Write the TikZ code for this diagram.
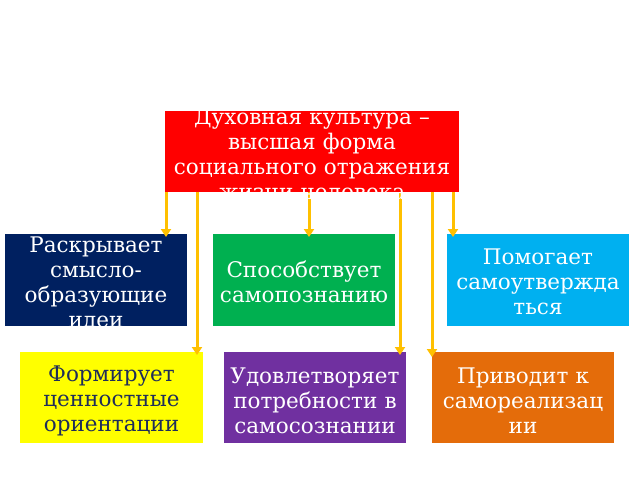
\documentclass[tikz,border=0pt]{standalone}
\usepackage{fontspec}
\setmainfont{DejaVu Serif}
\usetikzlibrary{arrows.meta}
\definecolor{cred}{HTML}{FF0000}
\definecolor{cdblue}{HTML}{002060}
\definecolor{cgreen}{HTML}{00B050}
\definecolor{clblue}{HTML}{00B0F0}
\definecolor{cyellow}{HTML}{FFFF00}
\definecolor{cpurple}{HTML}{7030A0}
\definecolor{corange}{HTML}{E46C0A}
\definecolor{carrow}{HTML}{FFC000}
\definecolor{cdtext}{HTML}{1F2D5A}
\tikzset{
  box/.style={draw=none, inner sep=0pt, outer sep=0pt},
  txt/.style={text=white, align=center, inner sep=0pt, font=\fontsize{21.5}{25}\selectfont},
  arr/.style={draw=carrow, line width=3pt, -{Triangle[length=8pt,width=10pt]}}
}
\begin{document}
\begin{tikzpicture}[x=1pt,y=-1pt]
\fill[white] (0,0) rectangle (640,480);
\useasboundingbox (0,0) rectangle (640,480);
% boxes
\node[box, fill=cred, minimum width=294pt, minimum height=81pt] (red) at (312,151.5) {};
\node[box, fill=cdblue, minimum width=182pt, minimum height=92pt] (dblue) at (96,280) {};
\node[box, fill=cgreen, minimum width=182pt, minimum height=92pt] (green) at (304,280) {};
\node[box, fill=clblue, minimum width=182pt, minimum height=92pt] (lblue) at (538,280) {};
\node[box, fill=cyellow, minimum width=183pt, minimum height=91pt] (yellow) at (111.5,397.5) {};
\node[box, fill=cpurple, minimum width=182pt, minimum height=91pt] (purple) at (315,397.5) {};
\node[box, fill=corange, minimum width=182pt, minimum height=91pt] (orange) at (523,397.5) {};
% arrows
\draw[arr] ([xshift=1pt]red.south west) -- ([xshift=1pt,yshift=-3pt]red.south west |- dblue.north);
\draw[arr] ([xshift=32pt]red.south west) -- ([xshift=32pt,yshift=-3pt]red.south west |- yellow.north);
\draw[arr] ([xshift=-3pt]red.south) -- ([xshift=-3pt,yshift=-3pt]red.south |- green.north);
\draw[arr] ([xshift=88pt]red.south) -- ([xshift=88pt,yshift=-3pt]red.south |- purple.north);
\draw[arr] ([xshift=-27pt]red.south east) -- ([xshift=-27pt,yshift=-5pt]red.south east |- orange.north);
\draw[arr] ([xshift=-6pt]red.south east) -- ([xshift=-6pt,yshift=-3pt]red.south east |- lblue.north);
% texts
\node[txt, text width=300pt] (redt) at ([yshift=-3pt]red.center) {Духовная культура –\\высшая форма\\социального отражения\\жизни человека};
\node[txt, text width=190pt] (dbluet) at ([yshift=-4pt]dblue.center) {Раскрывает\\смысло-\\образующие\\идеи};
\node[txt, text width=190pt] (greent) at ([yshift=-1.5pt]green.center) {Способствует\\самопознанию};
\node[txt, text width=190pt] (lbluet) at ([yshift=-1.5pt]lblue.center) {Помогает\\самоутвержда\\ться};
\node[txt, text=cdtext, text width=190pt] (yellowt) at ([yshift=-3pt]yellow.center) {Формирует\\ценностные\\ориентации};
\node[txt, text width=190pt] (purplet) at ([yshift=-3pt]purple.center) {Удовлетворяет\\потребности в\\самосознании};
\node[txt, text width=190pt] (oranget) at ([yshift=-3pt]orange.center) {Приводит к\\самореализац\\ии};
\end{tikzpicture}
\end{document}
